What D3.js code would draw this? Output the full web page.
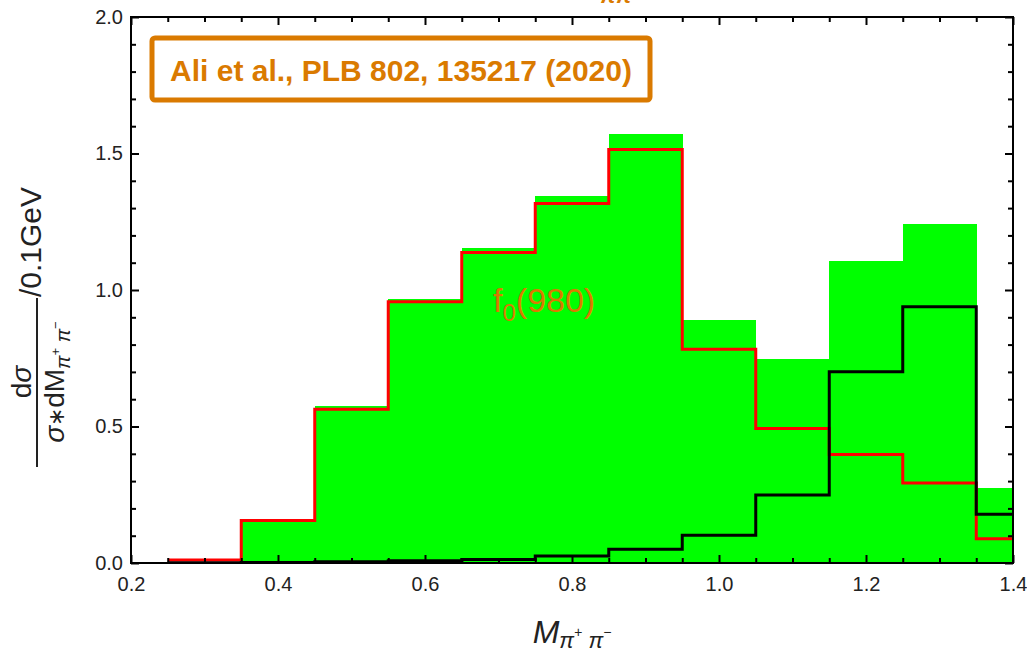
<!DOCTYPE html>
<html>
<head>
<meta charset="utf-8">
<script src="https://cdn.jsdelivr.net/npm/d3@7"></script>
<style>
  body { margin: 0; background: #fff; }
  svg { display: block; font-family: "Liberation Sans", Arial, sans-serif; }
</style>
</head>
<body>
<div id="wrapper"></div>
<script>
// 1. Data
const binEdges = [0.25, 0.35, 0.45, 0.55, 0.65, 0.75, 0.85, 0.95, 1.05, 1.15, 1.25, 1.35, 1.45]
const greenValues = [0, 0.158, 0.575, 0.967, 1.155, 1.344, 1.573, 0.890, 0.748, 1.106, 1.242, 0.276]
const redValues = [0.011, 0.156, 0.563, 0.957, 1.137, 1.317, 1.515, 0.783, 0.493, 0.397, 0.293, 0.089]
const blackValues = [0.001, 0.002, 0.005, 0.008, 0.013, 0.026, 0.05, 0.102, 0.249, 0.701, 0.939, 0.179]
const xMajorTicks = [0.2, 0.4, 0.6, 0.8, 1.0, 1.2, 1.4]
const yMajorTicks = [0.0, 0.5, 1.0, 1.5, 2.0]
const boxLabel = "Ali et al., PLB 802, 135217 (2020)"
const peakLabel = "980"

const orange = "#da7a00"

// 2. Dimensions
const dimensions = {
    width: 1027,
    height: 654,
    margin: { top: 17, right: 14, bottom: 91, left: 131 },
}
dimensions.boundedWidth = dimensions.width - dimensions.margin.left - dimensions.margin.right
dimensions.boundedHeight = dimensions.height - dimensions.margin.top - dimensions.margin.bottom

// 3. Canvas
const svg = d3.select("#wrapper")
    .append("svg")
    .attr("width", dimensions.width)
    .attr("height", dimensions.height)

const bounds = svg.append("g")
    .attr("transform", `translate(${dimensions.margin.left},${dimensions.margin.top})`)

svg.append("defs").append("clipPath")
    .attr("id", "plot-clip")
    .append("rect")
    .attr("width", dimensions.boundedWidth)
    .attr("height", dimensions.boundedHeight)

// 4. Scales
const xScale = d3.scaleLinear()
    .domain([0.2, 1.4])
    .range([0, dimensions.boundedWidth])

const yScale = d3.scaleLinear()
    .domain([0, 2])
    .range([dimensions.boundedHeight, 0])

// 5. Data marks
const plot = bounds.append("g").attr("clip-path", "url(#plot-clip)")

const bins = greenValues.map((v, i) => ({ x0: binEdges[i], x1: binEdges[i + 1], v }))

plot.selectAll("rect.bar")
    .data(bins)
    .enter()
    .append("rect")
    .attr("class", "bar")
    .attr("x", d => xScale(d.x0))
    .attr("y", d => yScale(d.v))
    .attr("width", d => xScale(d.x1) - xScale(d.x0) + 0.5)
    .attr("height", d => yScale(0) - yScale(d.v))
    .attr("fill", "#00ff00")
    .attr("shape-rendering", "crispEdges")

const stepLine = d3.line()
    .x(d => xScale(d[0]))
    .y(d => yScale(d[1]))
    .curve(d3.curveStepAfter)

const stepPoints = values => binEdges.map((e, i) => [e, values[Math.min(i, values.length - 1)]])

plot.append("path")
    .attr("d", stepLine(stepPoints(redValues)))
    .attr("fill", "none")
    .attr("stroke", "#ff0000")
    .attr("stroke-width", 3)

plot.append("path")
    .attr("d", stepLine(stepPoints(blackValues)))
    .attr("fill", "none")
    .attr("stroke", "#000")
    .attr("stroke-width", 3)

// 6. Axes (ticks point inward on all four sides)
const xMinor = d3.range(0.2, 1.4001, 0.05).filter(t => Math.abs(t * 5 - Math.round(t * 5)) > 1e-6)
const yMinor = d3.range(0, 2.0001, 0.1).filter(t => Math.abs(t * 2 - Math.round(t * 2)) > 1e-6)

function styleAxis(g) {
    g.select(".domain").remove()
    g.selectAll(".tick line").attr("stroke", "#000").attr("stroke-width", 2)
    g.selectAll("text")
        .attr("font-family", "'Liberation Sans', Arial, sans-serif")
        .attr("font-size", 20)
        .attr("fill", "#222")
}

const bottomG = bounds.append("g").attr("transform", `translate(0,${dimensions.boundedHeight})`)
bottomG.append("g").call(d3.axisBottom(xScale).tickValues(xMajorTicks).tickFormat(d3.format(".1f"))
    .tickSizeInner(-8).tickSizeOuter(0).tickPadding(14)).call(styleAxis)
bottomG.append("g").call(d3.axisBottom(xScale).tickValues(xMinor).tickFormat("")
    .tickSizeInner(-5).tickSizeOuter(0)).call(styleAxis)

const topG = bounds.append("g")
topG.append("g").call(d3.axisTop(xScale).tickValues(xMajorTicks).tickFormat("")
    .tickSizeInner(-8).tickSizeOuter(0)).call(styleAxis)
topG.append("g").call(d3.axisTop(xScale).tickValues(xMinor).tickFormat("")
    .tickSizeInner(-5).tickSizeOuter(0)).call(styleAxis)

const leftG = bounds.append("g")
leftG.append("g").call(d3.axisLeft(yScale).tickValues(yMajorTicks).tickFormat(d3.format(".1f"))
    .tickSizeInner(-8).tickSizeOuter(0).tickPadding(8)).call(styleAxis)
leftG.append("g").call(d3.axisLeft(yScale).tickValues(yMinor).tickFormat("")
    .tickSizeInner(-5).tickSizeOuter(0)).call(styleAxis)

const rightG = bounds.append("g").attr("transform", `translate(${dimensions.boundedWidth},0)`)
rightG.append("g").call(d3.axisRight(yScale).tickValues(yMajorTicks).tickFormat("")
    .tickSizeInner(-8).tickSizeOuter(0)).call(styleAxis)
rightG.append("g").call(d3.axisRight(yScale).tickValues(yMinor).tickFormat("")
    .tickSizeInner(-5).tickSizeOuter(0)).call(styleAxis)

bounds.append("rect")
    .attr("width", dimensions.boundedWidth)
    .attr("height", dimensions.boundedHeight)
    .attr("fill", "none")
    .attr("stroke", "#000")
    .attr("stroke-width", 2)

// 7. Labels
// x-axis label
const xLabel = svg.append("text")
    .attr("x", 572)
    .attr("y", 643)
    .attr("text-anchor", "middle")
    .attr("font-size", 32)
    .attr("font-style", "italic")
    .attr("fill", "#222")
xLabel.append("tspan").text("M")
xLabel.append("tspan").attr("font-size", 22).attr("dy", 5).text("π")
xLabel.append("tspan").attr("font-size", 14).attr("dy", -11).text("+")
xLabel.append("tspan").attr("font-size", 22).attr("dy", 11).text(" π")
xLabel.append("tspan").attr("font-size", 14).attr("dy", -11).text("−")

// y-axis label: fraction dσ / (σ*dM_{π+π−}) then /0.1GeV
const yLabel = svg.append("g")
    .attr("transform", "rotate(-90)")
    .attr("fill", "#222")
    .attr("font-size", 28)

yLabel.append("line")
    .attr("x1", -467).attr("x2", -298)
    .attr("y1", 37).attr("y2", 37)
    .attr("stroke", "#222").attr("stroke-width", 2)

const num = yLabel.append("text")
    .attr("x", -382).attr("y", 31)
    .attr("text-anchor", "middle")
num.append("tspan").text("d")
num.append("tspan").attr("font-style", "italic").text("σ")

const den = yLabel.append("text")
    .attr("x", -382).attr("y", 64)
    .attr("text-anchor", "middle")
den.append("tspan").attr("font-style", "italic").text("σ")
den.append("tspan").attr("font-size", 22).text("∗")
den.append("tspan").text("dM")
den.append("tspan").attr("font-size", 20).attr("font-style", "italic").attr("dy", 6).text("π")
den.append("tspan").attr("font-size", 13).attr("dy", -10).text("+")
den.append("tspan").attr("font-size", 20).attr("font-style", "italic").attr("dy", 10).text(" π")
den.append("tspan").attr("font-size", 13).attr("dy", -10).text("−")

yLabel.append("text")
    .attr("x", -297).attr("y", 41)
    .attr("text-anchor", "start")
    .attr("font-size", 30)
    .text("/0.1GeV")

// annotation box
svg.append("rect")
    .attr("x", 152).attr("y", 38)
    .attr("width", 498).attr("height", 62)
    .attr("rx", 3)
    .attr("fill", "#fff")
    .attr("stroke", orange)
    .attr("stroke-width", 5)

svg.append("text")
    .attr("x", 401).attr("y", 81)
    .attr("text-anchor", "middle")
    .attr("font-size", 30)
    .attr("font-weight", "bold")
    .attr("fill", orange)
    .text(boxLabel)

// f0(980) label
const peak = svg.append("text")
    .attr("x", 493).attr("y", 312)
    .attr("font-size", 34)
    .attr("fill", orange)
peak.append("tspan").text("f")
peak.append("tspan").attr("font-size", 24).attr("dy", 9).text("0")
peak.append("tspan").attr("dy", -9).text(`(${peakLabel})`)

// partially visible title above the frame
svg.append("text")
    .attr("x", 616).attr("y", 3)
    .attr("text-anchor", "middle")
    .attr("font-size", 22)
    .attr("font-weight", "bold")
    .attr("font-style", "italic")
    .attr("fill", orange)
    .text("ππ")
</script>
</body>
</html>
